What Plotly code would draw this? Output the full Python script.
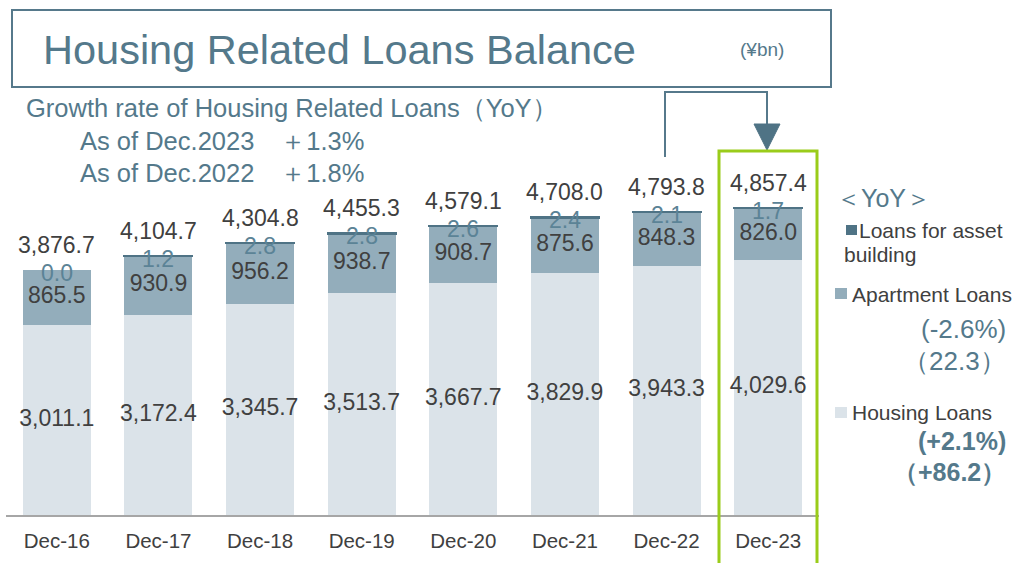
import plotly.graph_objects as go

categories = ["Dec-16", "Dec-17", "Dec-18", "Dec-19", "Dec-20", "Dec-21", "Dec-22", "Dec-23"]
housing_loans = [3011.1, 3172.4, 3345.7, 3513.7, 3667.7, 3829.9, 3943.3, 4029.6]
apartment_loans = [865.5, 930.9, 956.2, 938.7, 908.7, 875.6, 848.3, 826.0]
asset_building = [0.0, 1.2, 2.8, 2.8, 2.6, 2.4, 2.1, 1.7]
totals = [3876.7, 4104.7, 4304.8, 4455.3, 4579.1, 4708.0, 4793.8, 4857.4]

FONT = "Liberation Sans, Arial, sans-serif"
DARK_TXT = "#404040"
STEEL = "#54798b"
C_HOUSE = "#dbe3e9"
C_APT = "#93adbb"
C_ASSET = "#4f7385"
GREEN = "#9acc1a"

# pixel -> paper helpers (plot area: x 6..819, y 0..515)
L, R, T, B = 6, 195, 0, 48
W, H = 1014, 563
PW, PH = W - L - R, H - T - B


def X(px):
    return (px - L) / PW


def Y(py):
    return (H - B - py) / PH


YMAX = PH / 0.0632

fig = go.Figure()
fig.add_bar(x=categories, y=housing_loans, marker=dict(color=C_HOUSE, line=dict(width=0)),
            name="Housing Loans", hoverinfo="skip")
fig.add_bar(x=categories, y=apartment_loans, marker=dict(color=C_APT, line=dict(width=0)),
            name="Apartment Loans", hoverinfo="skip")
fig.add_bar(x=categories, y=asset_building,
            marker=dict(color=C_ASSET, line=dict(color=C_ASSET, width=[0 if v == 0 else 2 for v in asset_building])),
            name="Loans for asset building", hoverinfo="skip")

# segment labels
fig.add_scatter(x=categories, y=[h / 2 for h in housing_loans], mode="text",
                text=[f"{v:,.1f}" for v in housing_loans], textposition="middle center",
                textfont=dict(size=23, color=DARK_TXT, family=FONT), cliponaxis=False, hoverinfo="skip")
fig.add_scatter(x=categories, y=[h + a / 2 for h, a in zip(housing_loans, apartment_loans)], mode="text",
                text=[f"{v:,.1f}" for v in apartment_loans], textposition="middle center",
                textfont=dict(size=23, color=DARK_TXT, family=FONT), cliponaxis=False, hoverinfo="skip")

annotations = []
for c, t, a in zip(categories, totals, asset_building):
    annotations.append(dict(x=c, y=t, xref="x", yref="y", text=f"{t:,.1f}", showarrow=False,
                            yanchor="middle", yshift=25, font=dict(size=23, color=DARK_TXT, family=FONT)))
    annotations.append(dict(x=c, y=t, xref="x", yref="y", text=f"{a:.1f}", showarrow=False,
                            yanchor="middle", yshift=-3, font=dict(size=23, color="#5b8396", family=FONT)))

# title & texts
annotations += [
    dict(x=X(41), y=Y(50), xref="paper", yref="paper", xanchor="left", yanchor="middle", showarrow=False,
         text="Housing Related Loans Balance", font=dict(size=41.5, color=STEEL, family=FONT)),
    dict(x=X(738), y=Y(50), xref="paper", yref="paper", xanchor="left", yanchor="middle", showarrow=False,
         text="(¥bn)", font=dict(size=19, color=STEEL, family=FONT)),
    dict(x=X(24), y=Y(108), xref="paper", yref="paper", xanchor="left", yanchor="middle", showarrow=False,
         text="Growth rate of Housing Related Loans（YoY）", font=dict(size=25.5, color=STEEL, family=FONT)),
    dict(x=X(78), y=Y(141), xref="paper", yref="paper", xanchor="left", yanchor="middle", showarrow=False,
         text="As of Dec.2023　＋1.3%", font=dict(size=25.5, color=STEEL, family=FONT)),
    dict(x=X(78), y=Y(173), xref="paper", yref="paper", xanchor="left", yanchor="middle", showarrow=False,
         text="As of Dec.2022　＋1.8%", font=dict(size=25.5, color=STEEL, family=FONT)),
    # legend
    dict(x=X(834), y=Y(198), xref="paper", yref="paper", xanchor="left", yanchor="middle", showarrow=False,
         text="＜YoY＞", font=dict(size=25, color=STEEL, family=FONT)),
    dict(x=X(857), y=Y(230), xref="paper", yref="paper", xanchor="left", yanchor="middle", showarrow=False,
         text="Loans for asset", font=dict(size=21, color=DARK_TXT, family=FONT)),
    dict(x=X(842), y=Y(254), xref="paper", yref="paper", xanchor="left", yanchor="middle", showarrow=False,
         text="building", font=dict(size=21, color=DARK_TXT, family=FONT)),
    dict(x=X(850), y=Y(294), xref="paper", yref="paper", xanchor="left", yanchor="middle", showarrow=False,
         text="Apartment Loans", font=dict(size=21, color=DARK_TXT, family=FONT)),
    dict(x=X(1008), y=Y(329), xref="paper", yref="paper", xanchor="right", yanchor="middle", showarrow=False,
         text="(-2.6%)", font=dict(size=26, color=STEEL, family=FONT)),
    dict(x=X(1008), y=Y(361), xref="paper", yref="paper", xanchor="right", yanchor="middle", showarrow=False,
         text="（22.3）", font=dict(size=26, color=STEEL, family=FONT)),
    dict(x=X(850), y=Y(412), xref="paper", yref="paper", xanchor="left", yanchor="middle", showarrow=False,
         text="Housing Loans", font=dict(size=21, color=DARK_TXT, family=FONT)),
    dict(x=X(1008), y=Y(441), xref="paper", yref="paper", xanchor="right", yanchor="middle", showarrow=False,
         text="<b>(+2.1%)</b>", font=dict(size=25, color=STEEL, family=FONT)),
    dict(x=X(1008), y=Y(472), xref="paper", yref="paper", xanchor="right", yanchor="middle", showarrow=False,
         text="<b>（+86.2）</b>", font=dict(size=25, color=STEEL, family=FONT)),
]

shapes = [
    # title box
    dict(type="rect", xref="paper", yref="paper", x0=X(12), x1=X(831), y0=Y(87), y1=Y(10),
         line=dict(color="#56798b", width=2), fillcolor="rgba(0,0,0,0)", layer="below"),
    # connector
    dict(type="path", xref="paper", yref="paper",
         path=f"M {X(665)},{Y(157)} L {X(665)},{Y(92)} L {X(767)},{Y(92)} L {X(767)},{Y(126)}",
         line=dict(color="#56798b", width=2)),
    dict(type="path", xref="paper", yref="paper",
         path=f"M {X(754)},{Y(124)} L {X(780)},{Y(124)} L {X(767)},{Y(150)} Z",
         line=dict(color="#4f7385", width=1), fillcolor="#4f7385"),
    # highlight box
    dict(type="rect", xref="paper", yref="paper", x0=X(719), x1=X(817), y0=Y(570), y1=Y(151),
         line=dict(color=GREEN, width=3), fillcolor="rgba(0,0,0,0)"),
    # legend squares
    dict(type="rect", xref="paper", yref="paper", x0=X(846), x1=X(857), y0=Y(235), y1=Y(225),
         line=dict(width=0), fillcolor=C_ASSET),
    dict(type="rect", xref="paper", yref="paper", x0=X(835), x1=X(847), y0=Y(299), y1=Y(288),
         line=dict(width=0), fillcolor=C_APT),
    dict(type="rect", xref="paper", yref="paper", x0=X(835), x1=X(847), y0=Y(418), y1=Y(407),
         line=dict(width=0), fillcolor=C_HOUSE),
]

fig.update_layout(
    width=W, height=H, margin=dict(l=L, r=R, t=T, b=B),
    barmode="stack", bargap=0.33, showlegend=False,
    plot_bgcolor="white", paper_bgcolor="white",
    font=dict(family=FONT, color=DARK_TXT),
    annotations=annotations, shapes=shapes,
    xaxis=dict(showline=True, linecolor="#a6a6a6", linewidth=1.5, ticks="", showgrid=False,
               tickfont=dict(size=20.5, color=DARK_TXT, family=FONT), ticklabelstandoff=7,
               fixedrange=True),
    yaxis=dict(range=[0, YMAX], visible=False, showgrid=False, fixedrange=True),
)

fig.write_html("out.html", config={"displayModeBar": False},
               post_script="document.body.style.margin='0px';")
